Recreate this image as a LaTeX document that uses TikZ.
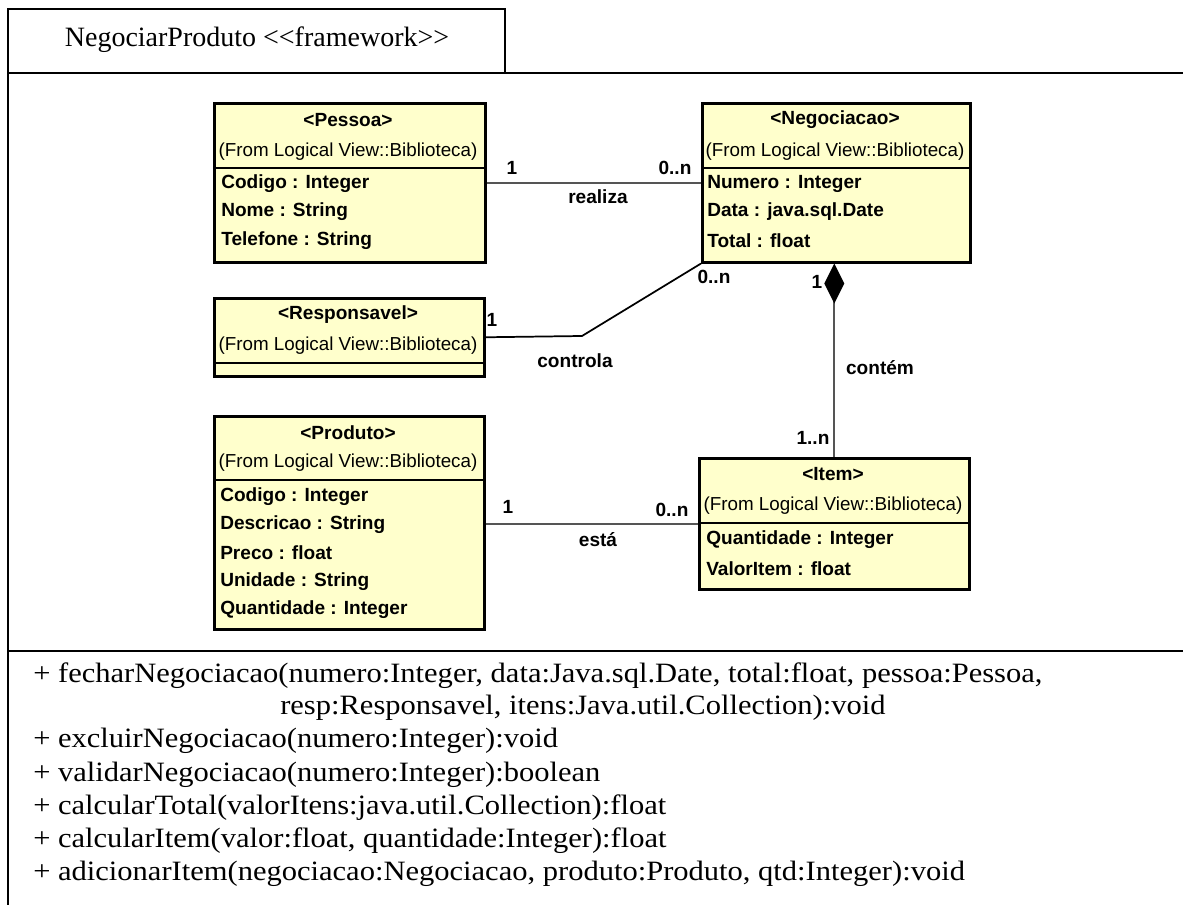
\documentclass[tikz,border=0pt]{standalone}
\usepackage{fontspec}
\usepackage{graphicx}
\setmainfont{Liberation Serif}
\newfontfamily\umlsans{Liberation Sans}
\usetikzlibrary{arrows.meta}
\definecolor{classfill}{RGB}{255,255,204}
\definecolor{assocline}{RGB}{85,85,85}
\newcommand\opline[1]{\scalebox{1.09}[1]{#1}}

\begin{document}
\begin{tikzpicture}[x=0.75pt,y=-0.75pt,
  classbox/.style={draw=black, line width=1.9pt, fill=classfill, rectangle, inner sep=0pt, anchor=north west},
  sepline/.style={draw=black, line width=1.6pt},
  stereo/.style={font=\umlsans\bfseries\fontsize{14.3pt}{16pt}\selectfont, inner sep=0pt},
  origin/.style={font=\umlsans\fontsize{14.1pt}{16pt}\selectfont, inner sep=0pt},
  attr/.style={font=\umlsans\bfseries\fontsize{14.3pt}{16pt}\selectfont, inner sep=0pt, anchor=west},
  assoc/.style={draw=assocline, line width=1.6pt},
  mult/.style={font=\umlsans\bfseries\fontsize{14.3pt}{16pt}\selectfont, inner sep=0pt},
  optext/.style={font=\fontsize{21pt}{24pt}\selectfont, inner sep=0pt, anchor=base west},
  frameline/.style={draw=black, line width=1.5pt}]

\useasboundingbox (0,0) rectangle (1183,905);

% package frame with its name tab
\draw[frameline] (8,905) -- (8,9) -- (505,9) -- (505,73);
\draw[frameline, line width=2.2pt] (8,73) -- (1183,73);
\draw[frameline] (8,651) -- (1183,651);
\node[font=\fontsize{21pt}{24pt}\selectfont, inner sep=0pt] (pkgname) at (257,40) {NegociarProduto <{}<framework>{}>};

% class boxes
\node[classbox, minimum width=271*0.75pt, minimum height=159*0.75pt] (pessoa) at (213,102) {};
\node[classbox, minimum width=268*0.75pt, minimum height=159*0.75pt] (neg) at (701,102) {};
\node[classbox, minimum width=270*0.75pt, minimum height=78*0.75pt] (resp) at (213,297) {};
\node[classbox, minimum width=270*0.75pt, minimum height=213*0.75pt] (prod) at (213,415) {};
\node[classbox, minimum width=270*0.75pt, minimum height=131*0.75pt] (item) at (698,457) {};

% compartment separators
\draw[sepline] (pessoa.west |- 0,168) -- (pessoa.east |- 0,168);
\draw[sepline] (neg.west |- 0,168) -- (neg.east |- 0,168);
\draw[sepline] (resp.west |- 0,363) -- (resp.east |- 0,363);
\draw[sepline] (prod.west |- 0,480) -- (prod.east |- 0,480);
\draw[sepline] (item.west |- 0,523) -- (item.east |- 0,523);

% Pessoa
\node[stereo] (pessoaname) at (348,120) {<Pessoa>};
\node[origin] (pessoafrom) at (348,152) {(From Logical View::Biblioteca)};
\node[attr] (pessoaa1) at (221,184) {Codigo : Integer};
\node[attr] (pessoaa2) at (221,212) {Nome : String};
\node[attr] (pessoaa3) at (221,241) {Telefone : String};

% Negociacao
\node[stereo] (negname) at (835,120) {<Negociacao>};
\node[origin] (negfrom) at (835,152) {(From Logical View::Biblioteca)};
\node[attr] (nega1) at (707,184) {Numero : Integer};
\node[attr] (nega2) at (707,212) {Data : java.sql.Date};
\node[attr] (nega3) at (707,241) {Total : float};

% Responsavel
\node[stereo] (respname) at (348,315) {<Responsavel>};
\node[origin] (respfrom) at (348,346) {(From Logical View::Biblioteca)};

% Produto
\node[stereo] (prodname) at (348,433) {<Produto>};
\node[origin] (prodfrom) at (348,463) {(From Logical View::Biblioteca)};
\node[attr] (proda1) at (220,497) {Codigo : Integer};
\node[attr] (proda2) at (220,525) {Descricao : String};
\node[attr] (proda3) at (220,553) {Preco : float};
\node[attr] (proda4) at (220,582) {Unidade : String};
\node[attr] (proda5) at (220,610) {Quantidade : Integer};

% Item
\node[stereo] (itemname) at (833,474) {<Item>};
\node[origin] (itemfrom) at (833,506) {(From Logical View::Biblioteca)};
\node[attr] (itema1) at (706,540) {Quantidade : Integer};
\node[attr] (itema2) at (706,569) {ValorItem : float};

% associations
\draw[assoc] (pessoa.east) -- (neg.west);
\node[mult] (realiza1) at (512,168) {1};
\node[mult] (realizan) at (675,168) {0..n};
\node[mult] (realiza) at (598,197) {realiza};

\coordinate (bend) at (582,336);
\draw[assoc, draw=black, line width=1.3pt] (resp.east) -- (bend) -- (neg.south west);
\node[mult] (controla1) at (492,320) {1};
\node[mult] (controlan) at (714,277) {0..n};
\node[mult] (controla) at (575,361) {controla};

\draw[assoc] (prod.east |- item.west) -- (item.west);
\node[mult] (esta1) at (508,507) {1};
\node[mult] (estan) at (672,510) {0..n};
\node[mult] (esta) at (598,540) {está};

% composition: filled diamond at the whole's end
\draw[assoc, -{Diamond[length=30pt,width=15pt,color=black,fill=black]}] (item.north) -- (item.north |- neg.south);
\node[mult] (contem1) at (817,282) {1};
\node[mult] (contemn) at (813,438) {1..n};
\node[mult] (contem) at (880,368) {contém};

% operations
\node[optext] (op1) at (33,682) {\opline{+ fecharNegociacao(numero:Integer, data:Java.sql.Date, total:float, pessoa:Pessoa,}};
\node[optext] (op1b) at (280,715) {\opline{resp:Responsavel, itens:Java.util.Collection):void}};
\node[optext] (op2) at (33,748) {\opline{+ excluirNegociacao(numero:Integer):void}};
\node[optext] (op3) at (33,781) {\opline{+ validarNegociacao(numero:Integer):boolean}};
\node[optext] (op4) at (33,814) {\opline{+ calcularTotal(valorItens:java.util.Collection):float}};
\node[optext] (op5) at (33,847) {\opline{+ calcularItem(valor:float, quantidade:Integer):float}};
\node[optext] (op6) at (33,880) {\opline{+ adicionarItem(negociacao:Negociacao, produto:Produto, qtd:Integer):void}};
\end{tikzpicture}
\end{document}
